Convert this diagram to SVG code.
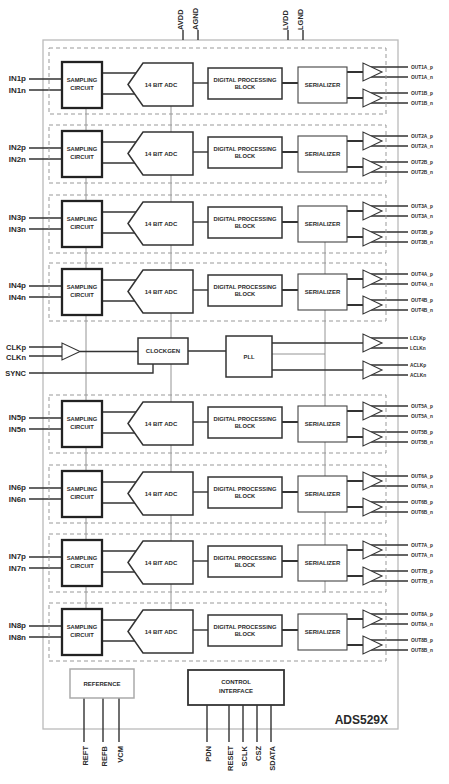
<svg xmlns="http://www.w3.org/2000/svg" xmlns:xlink="http://www.w3.org/1999/xlink" width="449" height="784" viewBox="0 0 449 784">
<style>
text{font-family:"Liberation Sans",Arial,sans-serif;font-weight:bold;fill:#2a2a2a}
.blk{font-size:5.8px;text-anchor:middle}
.pin{font-size:8px;text-anchor:end}
.clk{font-size:7.5px;text-anchor:end}
.out{font-size:4.8px}
.vt{font-size:7.5px}
.box{fill:#fff;stroke:#333;stroke-width:1.5}
.thick{fill:#fff;stroke:#222;stroke-width:2.3}
.ser{fill:#fff;stroke:#444;stroke-width:1.1}
.buf{fill:#fff;stroke:#333;stroke-width:1.1}
.dash{fill:none;stroke:#999;stroke-width:1;stroke-dasharray:4 3}
.outer{fill:#fff;stroke:#bbb;stroke-width:1.3}
.w{fill:none;stroke:#333;stroke-width:1.4}
.wt{fill:none;stroke:#333;stroke-width:2}
.wl{fill:none;stroke:#888;stroke-width:0.9}
</style>
<defs>
<g id="samp"><rect x="62" y="62" width="40" height="46" class="thick"/><text x="82" y="82" class="blk">SAMPLING</text><text x="82" y="89.5" class="blk">CIRCUIT</text></g>
<g id="adc"><polygon points="128,84.5 143,63 193,63 193,106 143,106" class="box"/><text x="161" y="86.5" class="blk" style="font-size:6px">14 BIT ADC</text></g>
<g id="dpb"><rect x="208" y="68" width="74" height="31" class="box"/><text x="245" y="81.5" class="blk">DIGITAL PROCESSING</text><text x="245" y="89" class="blk">BLOCK</text></g>
<g id="ser"><rect x="298" y="67" width="49" height="36" class="ser"/><text x="322.5" y="87" class="blk" style="font-size:6px">SERIALIZER</text></g>
<g id="bufs"><polygon points="363,63 363,81 382,72" class="buf"/><polygon points="363,89 363,107 382,98" class="buf"/></g>
<g id="chw">
<path d="M29,79H62M29,90H62" class="w"/>
<path d="M102,73H136M102,94H135" class="w"/>
<path d="M193,83H208" class="w"/>
<path d="M282,83H298M347,72H363M347,98H363" class="wt"/>
<path d="M371,67H408M371,77H408M371,93H408M371,103H408" class="w"/>
</g>
</defs>

<rect id="device" x="43" y="40" width="355" height="689" class="outer"/>

<g id="connectors">
<path d="M183,30V40M198,30V40M288,30V40M303,30V40" class="w"/>
<path d="M86,108V609M171,106V610M325,242V592M272,354H325" class="wl"/>
<use href="#chw"/>
<use href="#chw" transform="translate(0,69)"/>
<use href="#chw" transform="translate(0,139)"/>
<use href="#chw" transform="translate(0,207)"/>
<use href="#chw" transform="translate(0,339)"/>
<use href="#chw" transform="translate(0,409)"/>
<use href="#chw" transform="translate(0,478)"/>
<use href="#chw" transform="translate(0,547)"/>
<path d="M29,347H62M29,356H62M80,351.5H138M29,373H153V364M188,351H226M272,343H363M272,370H363" class="w"/>
<path d="M371,338H408M371,348H408M371,365H408M371,375H408" class="w"/>
<path d="M84,698V742M103,698V742M119,698V742M207,705V742M229,705V742M243,705V742M257,705V742M271,705V742" class="w"/>
</g>

<g id="power-pins">
<text class="vt" transform="translate(183,30) rotate(-90)">AVDD</text>
<text class="vt" transform="translate(198,30) rotate(-90)">AGND</text>
<text class="vt" transform="translate(288,30) rotate(-90)">LVDD</text>
<text class="vt" transform="translate(303,30) rotate(-90)">LGND</text>
</g>

<g id="ch1">
<rect x="49" y="48" width="337" height="66" class="dash"/>
<g id="ch1-samp"><use href="#samp"/></g><g id="ch1-adc"><use href="#adc"/></g><g id="ch1-dpb"><use href="#dpb"/></g><g id="ch1-ser"><use href="#ser"/></g><g id="ch1-buf"><use href="#bufs"/></g>
<text x="26" y="81" class="pin">IN1p</text><text x="26" y="93" class="pin">IN1n</text>
<text x="411" y="68.7" class="out">OUT1A_p</text><text x="411" y="78.7" class="out">OUT1A_n</text><text x="411" y="94.7" class="out">OUT1B_p</text><text x="411" y="104.7" class="out">OUT1B_n</text>
</g>

<g id="ch2" transform="translate(0,69)">
<rect x="49" y="56" width="337" height="58" class="dash"/>
<g id="ch2-samp"><use href="#samp"/></g><g id="ch2-adc"><use href="#adc"/></g><g id="ch2-dpb"><use href="#dpb"/></g><g id="ch2-ser"><use href="#ser"/></g><g id="ch2-buf"><use href="#bufs"/></g>
<text x="26" y="81" class="pin">IN2p</text><text x="26" y="93" class="pin">IN2n</text>
<text x="411" y="68.7" class="out">OUT2A_p</text><text x="411" y="78.7" class="out">OUT2A_n</text><text x="411" y="94.7" class="out">OUT2B_p</text><text x="411" y="104.7" class="out">OUT2B_n</text>
</g>

<g id="ch3" transform="translate(0,139)">
<rect x="49" y="56" width="337" height="58" class="dash"/>
<g id="ch3-samp"><use href="#samp"/></g><g id="ch3-adc"><use href="#adc"/></g><g id="ch3-dpb"><use href="#dpb"/></g><g id="ch3-ser"><use href="#ser"/></g><g id="ch3-buf"><use href="#bufs"/></g>
<text x="26" y="81" class="pin">IN3p</text><text x="26" y="93" class="pin">IN3n</text>
<text x="411" y="68.7" class="out">OUT3A_p</text><text x="411" y="78.7" class="out">OUT3A_n</text><text x="411" y="94.7" class="out">OUT3B_p</text><text x="411" y="104.7" class="out">OUT3B_n</text>
</g>

<g id="ch4" transform="translate(0,207)">
<rect x="49" y="56" width="337" height="58" class="dash"/>
<g id="ch4-samp"><use href="#samp"/></g><g id="ch4-adc"><use href="#adc"/></g><g id="ch4-dpb"><use href="#dpb"/></g><g id="ch4-ser"><use href="#ser"/></g><g id="ch4-buf"><use href="#bufs"/></g>
<text x="26" y="81" class="pin">IN4p</text><text x="26" y="93" class="pin">IN4n</text>
<text x="411" y="68.7" class="out">OUT4A_p</text><text x="411" y="78.7" class="out">OUT4A_n</text><text x="411" y="94.7" class="out">OUT4B_p</text><text x="411" y="104.7" class="out">OUT4B_n</text>
</g>

<g id="clock">
<text x="26" y="349.5" class="clk">CLKp</text><text x="26" y="360" class="clk">CLKn</text><text x="26" y="376" class="clk">SYNC</text>
<g id="clk-buf"><polygon points="62,343 62,360 80,351.5" class="buf"/></g>
<g id="clockgen"><rect x="138" y="338" width="50" height="26" class="box"/><text x="163" y="353.2" class="blk" style="font-size:6px">CLOCKGEN</text></g>
<g id="pll"><rect x="226" y="336" width="46" height="41" class="box"/><text x="249" y="358.5" class="blk">PLL</text></g>
<g id="lclk-buf"><polygon points="363,334 363,352 382,343" class="buf"/></g>
<g id="aclk-buf"><polygon points="363,361 363,379 382,370" class="buf"/></g>
<text x="410" y="339.7" class="out">LCLKp</text><text x="410" y="349.7" class="out">LCLKn</text><text x="410" y="366.7" class="out">ACLKp</text><text x="410" y="376.7" class="out">ACLKn</text>
</g>

<g id="ch5" transform="translate(0,339)">
<rect x="49" y="56" width="337" height="58" class="dash"/>
<g id="ch5-samp"><use href="#samp"/></g><g id="ch5-adc"><use href="#adc"/></g><g id="ch5-dpb"><use href="#dpb"/></g><g id="ch5-ser"><use href="#ser"/></g><g id="ch5-buf"><use href="#bufs"/></g>
<text x="26" y="81" class="pin">IN5p</text><text x="26" y="93" class="pin">IN5n</text>
<text x="411" y="68.7" class="out">OUT5A_p</text><text x="411" y="78.7" class="out">OUT5A_n</text><text x="411" y="94.7" class="out">OUT5B_p</text><text x="411" y="104.7" class="out">OUT5B_n</text>
</g>

<g id="ch6" transform="translate(0,409)">
<rect x="49" y="56" width="337" height="58" class="dash"/>
<g id="ch6-samp"><use href="#samp"/></g><g id="ch6-adc"><use href="#adc"/></g><g id="ch6-dpb"><use href="#dpb"/></g><g id="ch6-ser"><use href="#ser"/></g><g id="ch6-buf"><use href="#bufs"/></g>
<text x="26" y="81" class="pin">IN6p</text><text x="26" y="93" class="pin">IN6n</text>
<text x="411" y="68.7" class="out">OUT6A_p</text><text x="411" y="78.7" class="out">OUT6A_n</text><text x="411" y="94.7" class="out">OUT6B_p</text><text x="411" y="104.7" class="out">OUT6B_n</text>
</g>

<g id="ch7" transform="translate(0,478)">
<rect x="49" y="56" width="337" height="58" class="dash"/>
<g id="ch7-samp"><use href="#samp"/></g><g id="ch7-adc"><use href="#adc"/></g><g id="ch7-dpb"><use href="#dpb"/></g><g id="ch7-ser"><use href="#ser"/></g><g id="ch7-buf"><use href="#bufs"/></g>
<text x="26" y="81" class="pin">IN7p</text><text x="26" y="93" class="pin">IN7n</text>
<text x="411" y="68.7" class="out">OUT7A_p</text><text x="411" y="78.7" class="out">OUT7A_n</text><text x="411" y="94.7" class="out">OUT7B_p</text><text x="411" y="104.7" class="out">OUT7B_n</text>
</g>

<g id="ch8" transform="translate(0,547)">
<rect x="49" y="56" width="337" height="58" class="dash"/>
<g id="ch8-samp"><use href="#samp"/></g><g id="ch8-adc"><use href="#adc"/></g><g id="ch8-dpb"><use href="#dpb"/></g><g id="ch8-ser"><use href="#ser"/></g><g id="ch8-buf"><use href="#bufs"/></g>
<text x="26" y="81" class="pin">IN8p</text><text x="26" y="93" class="pin">IN8n</text>
<text x="411" y="68.7" class="out">OUT8A_p</text><text x="411" y="78.7" class="out">OUT8A_n</text><text x="411" y="94.7" class="out">OUT8B_p</text><text x="411" y="104.7" class="out">OUT8B_n</text>
</g>

<g id="reference"><rect x="70" y="669" width="64" height="29" style="fill:#fff;stroke:#aaa;stroke-width:1.5"/><text x="102" y="686" class="blk" style="font-size:6px">REFERENCE</text></g>
<g id="control-interface"><rect x="188" y="670" width="96" height="35" style="fill:#fff;stroke:#333;stroke-width:1.8"/><text x="236" y="684" class="blk" style="font-size:6px">CONTROL</text><text x="236" y="693" class="blk" style="font-size:6px">INTERFACE</text></g>
<text x="388" y="724" style="font-size:12px;text-anchor:end">ADS529X</text>

<g id="bottom-pins">
<text class="vt" text-anchor="end" transform="translate(87.5,746) rotate(-90)">REFT</text>
<text class="vt" text-anchor="end" transform="translate(106.5,746) rotate(-90)">REFB</text>
<text class="vt" text-anchor="end" transform="translate(122.5,746) rotate(-90)">VCM</text>
<text class="vt" text-anchor="end" transform="translate(210.5,746) rotate(-90)">PDN</text>
<text class="vt" text-anchor="end" transform="translate(232.5,746) rotate(-90)">RESET</text>
<text class="vt" text-anchor="end" transform="translate(246.5,746) rotate(-90)">SCLK</text>
<text class="vt" text-anchor="end" transform="translate(260.5,746) rotate(-90)">CSZ</text>
<text class="vt" text-anchor="end" transform="translate(274.5,746) rotate(-90)">SDATA</text>
</g>
</svg>
